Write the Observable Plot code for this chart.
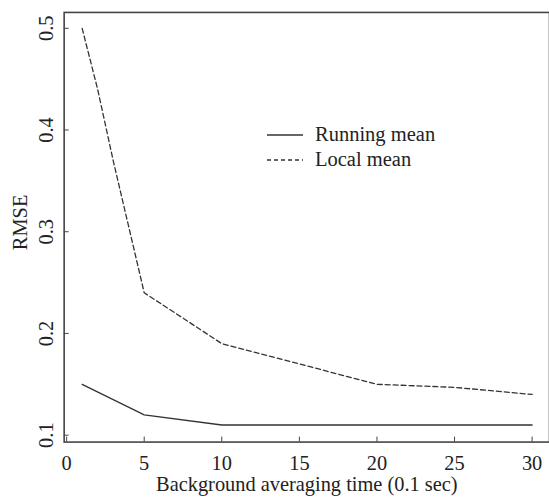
<!DOCTYPE html>
<html>
<head>
<meta charset="utf-8">
<script src="https://cdn.jsdelivr.net/npm/d3@7"></script>
<script src="https://cdn.jsdelivr.net/npm/@observablehq/plot@0.6"></script>
<style>
  html, body { margin: 0; padding: 0; background: #fff; overflow: hidden; }
  #wrap { position: relative; width: 549px; height: 501px; overflow: hidden; }
  #legend { position: absolute; left: 267px; top: 122px; font-family: "Liberation Serif", "Times New Roman", serif; font-size: 20.5px; color: #222; }
  #legend .row { display: flex; align-items: center; height: 25px; }
  #legend svg { margin-right: 12px; }
</style>
</head>
<body>
<div id="wrap">
  <div id="chart"></div>
  <div id="legend"></div>
</div>
<script>
const xValuesRunning = [1, 5, 10, 15, 20, 25, 30];
const running = [0.15, 0.12, 0.11, 0.11, 0.11, 0.11, 0.11];
const xValuesLocal = [1, 2, 3, 4, 5, 10, 15, 20, 25, 30];
const local = [0.50, 0.44, 0.37, 0.305, 0.24, 0.19, 0.17, 0.15, 0.147, 0.14];
const xTicks = [0, 5, 10, 15, 20, 25, 30];
const yTicks = [0.1, 0.2, 0.3, 0.4, 0.5];
const seriesNames = ["Running mean", "Local mean"];
const xLabel = "Background averaging time (0.1 sec)";
const yLabel = "RMSE";

const runData = xValuesRunning.map((x, i) => ({x, y: running[i]}));
const locData = xValuesLocal.map((x, i) => ({x, y: local[i]}));

const font = '"Liberation Serif", "Times New Roman", serif';
const lineColor = "#333";
const dash = "5,3";
const fs = 20.5;

const chart = Plot.plot({
  width: 552,
  height: 501,
  marginLeft: 64,
  marginRight: 0,
  marginTop: 12,
  marginBottom: 57,
  style: {fontFamily: font, fontSize: fs + "px", color: "#222", background: "#fff"},
  x: {domain: [-0.16, 31.12]},
  y: {domain: [0.0932, 0.5156]},
  marks: [
    Plot.frame({stroke: "#444", strokeWidth: 1.6}),
    Plot.axisX({ticks: xTicks, tickSize: -5, tickPadding: 19, tickFormat: d3.format("d"), stroke: "#444", label: null, fontSize: fs}),
    Plot.axisY({ticks: yTicks, tickSize: -5, tickPadding: 16, tickRotate: -90, tickFormat: d3.format(".1f"), stroke: "#444", label: null, fontSize: fs}),
    Plot.line(runData, {x: "x", y: "y", stroke: lineColor, strokeWidth: 1.3}),
    Plot.line(locData, {x: "x", y: "y", stroke: lineColor, strokeWidth: 1.3, strokeDasharray: dash}),
    Plot.text([xLabel], {frameAnchor: "bottom", text: d => d, dy: 49, fontSize: fs, fill: "#222"}),
    Plot.text([yLabel], {frameAnchor: "left", text: d => d, dx: -44, dy: 23, rotate: -90, fontSize: fs, fill: "#222"})
  ]
});
document.getElementById("chart").appendChild(chart);

const legend = document.getElementById("legend");
seriesNames.forEach((name, i) => {
  const row = document.createElement("div");
  row.className = "row";
  row.innerHTML = `<svg width="36" height="4"><line x1="0" x2="36" y1="2" y2="2" stroke="${lineColor}" stroke-width="1.3" ${i === 1 ? `stroke-dasharray="4,3"` : ""}/></svg><span>${name}</span>`;
  legend.appendChild(row);
});
</script>
</body>
</html>
